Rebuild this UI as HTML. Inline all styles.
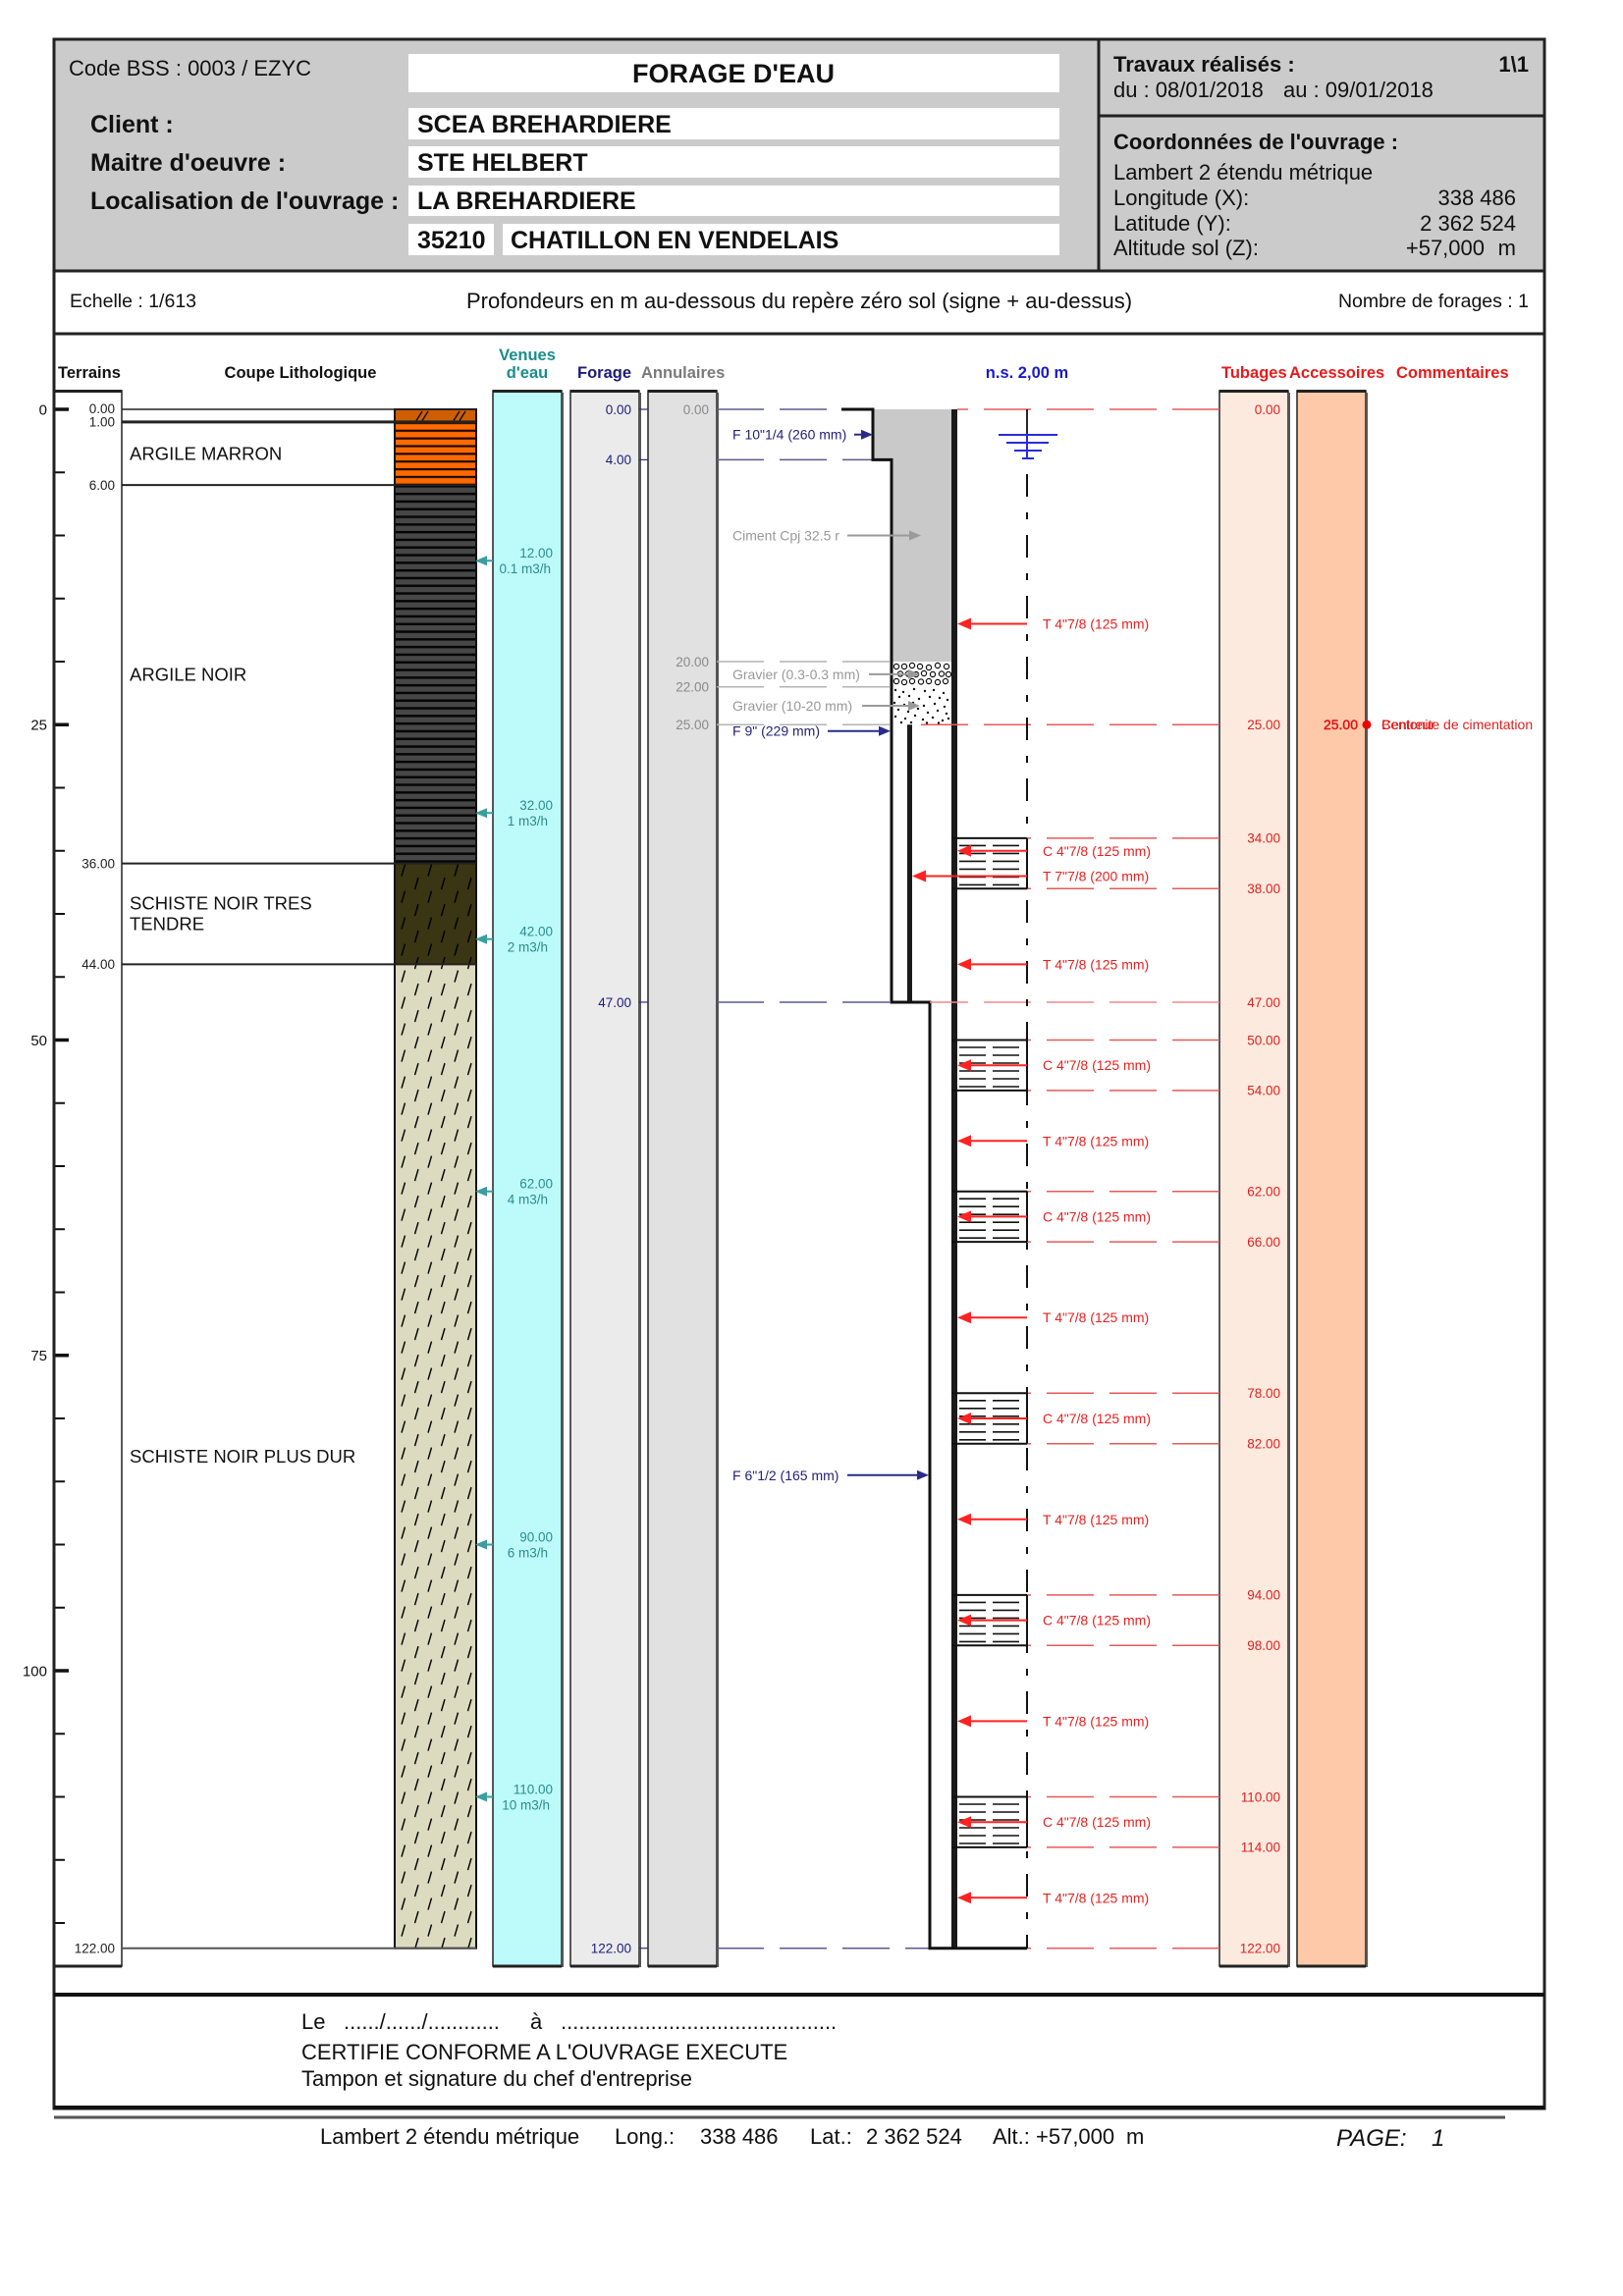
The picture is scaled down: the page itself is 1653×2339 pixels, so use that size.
<!DOCTYPE html>
<html><head><meta charset="utf-8"><style>
html,body{margin:0;padding:0;background:#fff;}
svg{display:block;}
text{font-family:"Liberation Sans",Arial,sans-serif;}
</style></head><body>
<svg width="1653" height="2339" viewBox="0 0 1653 2339" xmlns="http://www.w3.org/2000/svg" xmlns:xlink="http://www.w3.org/1999/xlink">
<defs>
 <pattern id="pm" patternUnits="userSpaceOnUse" x="0" y="429.85" width="20" height="7.85">
  <rect width="20" height="7.85" fill="#ff6a00"/>
  <rect y="0" width="20" height="2.2" fill="#1a0800"/>
 </pattern>
 <pattern id="pn" patternUnits="userSpaceOnUse" x="0" y="494.1" width="20" height="7.8">
  <rect width="20" height="7.8" fill="#474747"/>
  <rect y="0" width="20" height="2.5" fill="#050505"/>
 </pattern>
 <pattern id="ps" patternUnits="userSpaceOnUse" x="405" y="879.6" width="27" height="27">
  <line x1="4" y1="13" x2="7.5" y2="1" stroke="#000" stroke-width="1.4"/>
  <line x1="17.5" y1="26.5" x2="21" y2="14.5" stroke="#000" stroke-width="1.4"/>
 </pattern>
 <g id="scr">
  <line x1="969" y1="0" x2="1046" y2="0" stroke="#111" stroke-width="2"/>
  <line x1="969" y1="51.4" x2="1046" y2="51.4" stroke="#111" stroke-width="2"/>
  <line x1="1046" y1="0" x2="1046" y2="51.4" stroke="#111" stroke-width="2"/>
  <g stroke="#111" stroke-width="1.6">
   <line x1="977" y1="7.5" x2="1004" y2="7.5"/><line x1="1011" y1="7.5" x2="1038" y2="7.5"/>
   <line x1="977" y1="15.5" x2="1004" y2="15.5"/><line x1="1011" y1="15.5" x2="1038" y2="15.5"/>
   <line x1="977" y1="23.5" x2="1004" y2="23.5"/><line x1="1011" y1="23.5" x2="1038" y2="23.5"/>
   <line x1="977" y1="31.5" x2="1004" y2="31.5"/><line x1="1011" y1="31.5" x2="1038" y2="31.5"/>
   <line x1="977" y1="39.5" x2="1004" y2="39.5"/><line x1="1011" y1="39.5" x2="1038" y2="39.5"/>
   <line x1="977" y1="47.5" x2="1004" y2="47.5"/><line x1="1011" y1="47.5" x2="1038" y2="47.5"/>
  </g>
 </g>
 <g id="ra">
  <line x1="987" y1="0" x2="1046" y2="0" stroke="#f22" stroke-width="2"/>
  <polygon points="975,0 989,-6 989,6" fill="#f22"/>
 </g>
 <g id="wa">
  <line x1="494" y1="0" x2="502" y2="0" stroke="#3a9e9e" stroke-width="2"/>
  <polygon points="484,0 496,-5 496,5" fill="#3a9e9e"/>
 </g>
</defs>

<!-- HEADER -->
<rect x="55" y="40" width="1518" height="236" fill="#cbcbcb"/>
<rect x="416" y="55" width="663" height="39" fill="#fff"/>
<rect x="416" y="110" width="663" height="32" fill="#fff"/>
<rect x="416" y="149" width="663" height="32" fill="#fff"/>
<rect x="416" y="189" width="663" height="31" fill="#fff"/>
<rect x="416" y="228" width="87" height="32" fill="#fff"/>
<rect x="512" y="228" width="567" height="32" fill="#fff"/>
<line x1="1119" y1="40" x2="1119" y2="276" stroke="#222" stroke-width="3"/>
<line x1="1119" y1="118" x2="1573" y2="118" stroke="#222" stroke-width="3"/>

<text x="70" y="77" font-size="22" fill="#111">Code BSS : 0003 / EZYC</text>
<text x="747" y="84" font-size="27" font-weight="bold" text-anchor="middle" fill="#111">FORAGE D'EAU</text>
<text x="92" y="135" font-size="25" font-weight="bold" fill="#111">Client :</text>
<text x="92" y="174" font-size="25" font-weight="bold" fill="#111">Maitre d'oeuvre :</text>
<text x="92" y="213" font-size="25" font-weight="bold" fill="#111">Localisation de l'ouvrage :</text>
<text x="425" y="135" font-size="25" font-weight="bold" fill="#111">SCEA BREHARDIERE</text>
<text x="425" y="174" font-size="25" font-weight="bold" fill="#111">STE HELBERT</text>
<text x="425" y="213" font-size="25" font-weight="bold" fill="#111">LA BREHARDIERE</text>
<text x="425" y="253" font-size="25" font-weight="bold" fill="#111">35210</text>
<text x="520" y="253" font-size="25" font-weight="bold" fill="#111">CHATILLON EN VENDELAIS</text>

<text x="1134" y="73" font-size="22" font-weight="bold" fill="#111">Travaux réalisés :</text>
<text x="1557" y="73" font-size="22" font-weight="bold" fill="#111" text-anchor="end">1\1</text>
<text x="1134" y="99" font-size="22" fill="#111">du : 08/01/2018</text>
<text x="1307" y="99" font-size="22" fill="#111">au : 09/01/2018</text>
<text x="1134" y="152" font-size="22" font-weight="bold" fill="#111">Coordonnées de l'ouvrage :</text>
<text x="1134" y="183" font-size="22" fill="#111">Lambert 2 étendu métrique</text>
<text x="1134" y="209" font-size="22" fill="#111">Longitude (X):</text>
<text x="1544" y="209" font-size="22" fill="#111" text-anchor="end">338 486</text>
<text x="1134" y="235" font-size="22" fill="#111">Latitude (Y):</text>
<text x="1544" y="235" font-size="22" fill="#111" text-anchor="end">2 362 524</text>
<text x="1134" y="260" font-size="22" fill="#111">Altitude sol (Z):</text>
<text x="1512" y="260" font-size="22" fill="#111" text-anchor="end">+57,000</text>
<text x="1544" y="260" font-size="22" fill="#111" text-anchor="end">m</text>

<!-- ROW 2 -->
<text x="71" y="313" font-size="19.5" fill="#111">Echelle : 1/613</text>
<text x="814" y="314" font-size="22" fill="#111" text-anchor="middle">Profondeurs en m au-dessous du repère zéro sol (signe + au-dessus)</text>
<text x="1557" y="313" font-size="19.5" fill="#111" text-anchor="end">Nombre de forages : 1</text>

<!-- COLUMN HEADERS -->
<g font-size="16.5" font-weight="bold">
<text x="59" y="385" fill="#111">Terrains</text>
<text x="306" y="385" fill="#111" text-anchor="middle">Coupe Lithologique</text>
<text x="537" y="367" fill="#1a8c8c" text-anchor="middle">Venues</text>
<text x="537" y="385" fill="#1a8c8c" text-anchor="middle">d'eau</text>
<text x="588" y="385" fill="#1c1c78">Forage</text>
<text x="653" y="385" fill="#7a7a7a">Annulaires</text>
<text x="1046" y="385" fill="#1a1ac8" text-anchor="middle">n.s. 2,00 m</text>
<text x="1244" y="385" fill="#e81a1a">Tubages</text>
<text x="1313" y="385" fill="#e81a1a">Accessoires</text>
<text x="1422" y="385" fill="#e81a1a">Commentaires</text>
</g>

<!-- COLUMNS -->
<g stroke="#222" stroke-width="1.5">
<rect x="55" y="398" width="69" height="1605" fill="#fff"/>
<rect x="502" y="398" width="70" height="1605" fill="#bdfbfb"/>
<rect x="581" y="398" width="70" height="1605" fill="#ebebeb"/>
<rect x="660" y="398" width="70" height="1605" fill="#e1e1e1"/>
<rect x="1242" y="398" width="70" height="1605" fill="#fdeade"/>
<rect x="1321" y="398" width="70" height="1605" fill="#fdc9a9"/>
</g>
<g stroke="#222" stroke-width="3">
<line x1="55" y1="398.5" x2="124" y2="398.5"/>
<line x1="502" y1="398.5" x2="572" y2="398.5"/>
<line x1="581" y1="398.5" x2="651" y2="398.5"/>
<line x1="660" y1="398.5" x2="730" y2="398.5"/>
<line x1="1242" y1="398.5" x2="1312" y2="398.5"/>
<line x1="1321" y1="398.5" x2="1391" y2="398.5"/>
<line x1="55" y1="2003" x2="124" y2="2003"/>
<line x1="502" y1="2003" x2="572" y2="2003"/>
<line x1="581" y1="2003" x2="651" y2="2003"/>
<line x1="660" y1="2003" x2="730" y2="2003"/>
<line x1="1242" y1="2003" x2="1312" y2="2003"/>
<line x1="1321" y1="2003" x2="1391" y2="2003"/>
</g>
<g stroke="#555" stroke-width="2">
<line x1="652" y1="400" x2="652" y2="2004"/>
<line x1="731" y1="400" x2="731" y2="2004"/>
<line x1="573" y1="400" x2="573" y2="2004"/>
<line x1="1313" y1="400" x2="1313" y2="2004"/>
<line x1="1392" y1="400" x2="1392" y2="2004"/>
</g>

<!-- SCALE -->
<g stroke="#111" stroke-width="2">
<line x1="55" y1="481.25" x2="66" y2="481.25"/><line x1="55" y1="545.5" x2="66" y2="545.5"/>
<line x1="55" y1="609.75" x2="66" y2="609.75"/><line x1="55" y1="674" x2="66" y2="674"/>
<line x1="55" y1="802.5" x2="66" y2="802.5"/><line x1="55" y1="866.75" x2="66" y2="866.75"/>
<line x1="55" y1="931" x2="66" y2="931"/><line x1="55" y1="995.25" x2="66" y2="995.25"/>
<line x1="55" y1="1123.75" x2="66" y2="1123.75"/><line x1="55" y1="1188" x2="66" y2="1188"/>
<line x1="55" y1="1252.25" x2="66" y2="1252.25"/><line x1="55" y1="1316.5" x2="66" y2="1316.5"/>
<line x1="55" y1="1445" x2="66" y2="1445"/><line x1="55" y1="1509.25" x2="66" y2="1509.25"/>
<line x1="55" y1="1573.5" x2="66" y2="1573.5"/><line x1="55" y1="1637.75" x2="66" y2="1637.75"/>
<line x1="55" y1="1766.25" x2="66" y2="1766.25"/><line x1="55" y1="1830.5" x2="66" y2="1830.5"/>
<line x1="55" y1="1894.75" x2="66" y2="1894.75"/><line x1="55" y1="1959" x2="66" y2="1959"/>
</g>
<g stroke="#111" stroke-width="3.5">
<line x1="55" y1="417" x2="70" y2="417"/><line x1="55" y1="738.25" x2="70" y2="738.25"/>
<line x1="55" y1="1059.5" x2="70" y2="1059.5"/><line x1="55" y1="1380.75" x2="70" y2="1380.75"/>
<line x1="55" y1="1702" x2="70" y2="1702"/>
</g>
<g font-size="15" fill="#111" text-anchor="end">
<text x="48" y="422.4">0</text>
<text x="48" y="743.6">25</text>
<text x="48" y="1064.9">50</text>
<text x="48" y="1386.1">75</text>
<text x="48" y="1707.4">100</text>
</g>

<!-- LITHOLOGY -->
<rect x="402" y="417" width="83" height="12.85" fill="#d05e00"/>
<rect x="402" y="429.85" width="83" height="64.25" fill="url(#pm)"/>
<rect x="402" y="494.1" width="83" height="385.5" fill="url(#pn)"/>
<rect x="402" y="879.6" width="83" height="102.8" fill="#3a3512"/>
<rect x="402" y="879.6" width="83" height="102.8" fill="url(#ps)"/>
<rect x="402" y="982.4" width="83" height="1002.3" fill="#dcdbc0"/>
<rect x="402" y="982.4" width="83" height="1002.3" fill="url(#ps)"/>
<g stroke="#111" stroke-width="1.5">
<line x1="424" y1="428.5" x2="430" y2="419"/><line x1="430" y1="428.5" x2="436" y2="419"/>
<line x1="462" y1="428.5" x2="468" y2="419"/><line x1="468" y1="428.5" x2="474" y2="419"/>
</g>
<rect x="402" y="417" width="83" height="1567.7" fill="none" stroke="#111" stroke-width="2"/>
<g stroke="#222">
<line x1="124" y1="417" x2="485" y2="417" stroke-width="1.5"/>
<line x1="124" y1="429.85" x2="485" y2="429.85" stroke-width="3"/>
<line x1="124" y1="494.1" x2="485" y2="494.1" stroke-width="2"/>
<line x1="124" y1="879.6" x2="485" y2="879.6" stroke-width="2"/>
<line x1="124" y1="982.4" x2="485" y2="982.4" stroke-width="2"/>
<line x1="124" y1="1984.7" x2="485" y2="1984.7" stroke-width="2" stroke="#555"/>
</g>
<g font-size="13.5" fill="#222" text-anchor="end">
<text x="117" y="421">0.00</text>
<text x="117" y="434.5">1.00</text>
<text x="117" y="498.9">6.00</text>
<text x="117" y="884.4">36.00</text>
<text x="117" y="987.2">44.00</text>
<text x="117" y="1989.5">122.00</text>
</g>
<g font-size="18.5" fill="#111">
<text x="132" y="468.5">ARGILE MARRON</text>
<text x="132" y="693.5">ARGILE NOIR</text>
<text x="132" y="926.5">SCHISTE NOIR TRES</text>
<text x="132" y="947.5">TENDRE</text>
<text x="132" y="1490.2">SCHISTE NOIR PLUS DUR</text>
</g>

<!-- VENUES D'EAU -->
<use xlink:href="#wa" href="#wa" y="571.2"/>
<use xlink:href="#wa" href="#wa" y="828.2"/>
<use xlink:href="#wa" href="#wa" y="956.7"/>
<use xlink:href="#wa" href="#wa" y="1213.7"/>
<use xlink:href="#wa" href="#wa" y="1573.5"/>
<use xlink:href="#wa" href="#wa" y="1830.5"/>
<g font-size="13.5" fill="#2b8c8c" text-anchor="end">
<text x="563" y="568">12.00</text><text x="561" y="584">0.1 m3/h</text>
<text x="563" y="825">32.00</text><text x="558" y="841">1 m3/h</text>
<text x="563" y="953.5">42.00</text><text x="558" y="969.5">2 m3/h</text>
<text x="563" y="1210.5">62.00</text><text x="558" y="1226.5">4 m3/h</text>
<text x="563" y="1570.3">90.00</text><text x="558" y="1586.3">6 m3/h</text>
<text x="563" y="1827.3">110.00</text><text x="560" y="1843.3">10 m3/h</text>
</g>

<!-- FORAGE / ANNULAIRES LABELS -->
<g stroke="#2a2a80" stroke-width="1.2">
<line x1="651" y1="417" x2="660" y2="417"/><line x1="651" y1="468.4" x2="660" y2="468.4"/>
<line x1="651" y1="1020.95" x2="660" y2="1020.95"/><line x1="651" y1="1984.7" x2="660" y2="1984.7"/>
</g>
<g font-size="13.5" fill="#1c1c7a" text-anchor="end">
<text x="643" y="421.8">0.00</text>
<text x="643" y="473.2">4.00</text>
<text x="643" y="1025.8">47.00</text>
<text x="643" y="1989.5">122.00</text>
</g>
<g font-size="13.5" fill="#8a8a8a" text-anchor="end">
<text x="722" y="421.8">0.00</text>
<text x="722" y="678.8">20.00</text>
<text x="722" y="704.5">22.00</text>
<text x="722" y="743">25.00</text>
</g>

<!-- CONNECTOR DASHED LINES LEFT -->
<g stroke="#5a5a92" stroke-width="1.5" stroke-dasharray="48 16" fill="none">
<line x1="730" y1="417" x2="857" y2="417"/>
<line x1="730" y1="468.4" x2="889" y2="468.4"/>
<line x1="730" y1="1020.95" x2="908" y2="1020.95"/>
<line x1="730" y1="1984.7" x2="947" y2="1984.7"/>
</g>
<g stroke="#b4b4b4" stroke-width="1.5" stroke-dasharray="48 16" fill="none">
<line x1="730" y1="674" x2="908" y2="674"/>
<line x1="730" y1="699.7" x2="908" y2="699.7"/>
<line x1="730" y1="738.25" x2="908" y2="738.25"/>
</g>

<!-- WELL -->
<polygon points="889,417 969,417 969,674 908,674 908,468.4 889,468.4" fill="#c9c9c9"/>
<rect x="908" y="674" width="61" height="64.25" fill="#fff"/>
<g fill="none" stroke="#111" stroke-width="1.2">
<circle cx="913" cy="679" r="2.6"/><circle cx="921" cy="679" r="2.6"/><circle cx="929" cy="678" r="2.6"/><circle cx="937" cy="679" r="2.6"/><circle cx="946" cy="680" r="2.6"/><circle cx="955" cy="678" r="2.6"/><circle cx="964" cy="679" r="2.6"/>
<circle cx="917" cy="686.5" r="2.6"/><circle cx="925" cy="686.5" r="2.6"/><circle cx="933" cy="687" r="2.6"/><circle cx="941" cy="686" r="2.6"/><circle cx="950" cy="687" r="2.6"/><circle cx="959" cy="686.5" r="2.6"/><circle cx="966" cy="687" r="2.6"/>
<circle cx="913" cy="694" r="2.6"/><circle cx="921" cy="695" r="2.6"/><circle cx="929" cy="694" r="2.6"/><circle cx="938" cy="694.5" r="2.6"/><circle cx="946" cy="694" r="2.6"/><circle cx="955" cy="695" r="2.6"/><circle cx="963" cy="694" r="2.6"/>
</g>
<g fill="#111">
<circle cx="912" cy="703" r="1.2"/><circle cx="920" cy="705" r="1.2"/><circle cx="931" cy="702" r="1.2"/><circle cx="942" cy="704" r="1.2"/><circle cx="951" cy="703" r="1.2"/><circle cx="961" cy="706" r="1.2"/>
<circle cx="916" cy="710" r="1.2"/><circle cx="926" cy="709" r="1.2"/><circle cx="936" cy="712" r="1.2"/><circle cx="947" cy="710" r="1.2"/><circle cx="957" cy="711" r="1.2"/><circle cx="965" cy="713" r="1.2"/>
<circle cx="911" cy="716" r="1.2"/><circle cx="921" cy="718" r="1.2"/><circle cx="930" cy="716" r="1.2"/><circle cx="941" cy="719" r="1.2"/><circle cx="952" cy="717" r="1.2"/><circle cx="962" cy="720" r="1.2"/>
<circle cx="915" cy="723" r="1.2"/><circle cx="925" cy="725" r="1.2"/><circle cx="935" cy="722" r="1.2"/><circle cx="945" cy="726" r="1.2"/><circle cx="955" cy="724" r="1.2"/><circle cx="964" cy="727" r="1.2"/>
<circle cx="912" cy="730" r="1.2"/><circle cx="922" cy="732" r="1.2"/><circle cx="932" cy="729" r="1.2"/><circle cx="940" cy="733" r="1.2"/><circle cx="950" cy="731" r="1.2"/><circle cx="960" cy="734" r="1.2"/>
<circle cx="918" cy="736" r="1.2"/><circle cx="928" cy="736" r="1.2"/><circle cx="944" cy="736.5" r="1.2"/><circle cx="956" cy="736.5" r="1.2"/><circle cx="966" cy="732" r="1.2"/>
</g>
<rect x="969" y="417" width="6" height="1567.7" fill="#1a1a1a"/>
<rect x="924" y="738.25" width="5" height="282.7" fill="#1a1a1a"/>
<path d="M857,417 H889 V468.4 H908 V1020.95 H947 V1984.7 H1046" fill="none" stroke="#111" stroke-width="3"/>

<!-- RED DASHED CONNECTORS RIGHT -->
<g stroke="#e65a5a" stroke-width="1.5" stroke-dasharray="48 16" fill="none">
<line x1="1242" y1="417" x2="975" y2="417"/>
<line x1="1242" y1="738.25" x2="933" y2="738.25"/>
<line x1="1242" y1="853.9" x2="1046" y2="853.9"/>
<line x1="1242" y1="905.3" x2="1046" y2="905.3"/>
<line x1="1242" y1="1020.95" x2="947" y2="1020.95" stroke="#f08a8a"/>
<line x1="1242" y1="1059.5" x2="1046" y2="1059.5"/>
<line x1="1242" y1="1110.9" x2="1046" y2="1110.9"/>
<line x1="1242" y1="1213.7" x2="1046" y2="1213.7"/>
<line x1="1242" y1="1265.1" x2="1046" y2="1265.1"/>
<line x1="1242" y1="1419.3" x2="1046" y2="1419.3"/>
<line x1="1242" y1="1470.7" x2="1046" y2="1470.7"/>
<line x1="1242" y1="1624.9" x2="1046" y2="1624.9"/>
<line x1="1242" y1="1676.3" x2="1046" y2="1676.3"/>
<line x1="1242" y1="1830.5" x2="1046" y2="1830.5"/>
<line x1="1242" y1="1881.9" x2="1046" y2="1881.9"/>
<line x1="1242" y1="1984.7" x2="1046" y2="1984.7"/>
</g>

<!-- CENTERLINE & WATER LEVEL -->
<line x1="1046" y1="417" x2="1046" y2="443" stroke="#111" stroke-width="1.8"/>
<line x1="1046" y1="483" x2="1046" y2="1984.7" stroke="#111" stroke-width="2" stroke-dasharray="23 16 7 16"/>
<g stroke="#2a2ae0" stroke-width="2">
<line x1="1017" y1="443" x2="1077" y2="443"/>
<line x1="1025" y1="451" x2="1068" y2="451"/>
<line x1="1033" y1="459" x2="1061" y2="459"/>
<line x1="1041" y1="467" x2="1053" y2="467"/>
<line x1="1046" y1="443" x2="1046" y2="467"/>
</g>

<!-- SCREENS -->
<use xlink:href="#scr" href="#scr" y="853.9"/>
<use xlink:href="#scr" href="#scr" y="1059.5"/>
<use xlink:href="#scr" href="#scr" y="1213.7"/>
<use xlink:href="#scr" href="#scr" y="1419.3"/>
<use xlink:href="#scr" href="#scr" y="1624.9"/>
<use xlink:href="#scr" href="#scr" y="1830.5"/>

<!-- RED ARROWS -->
<use xlink:href="#ra" href="#ra" y="635.45"/>
<use xlink:href="#ra" href="#ra" y="866.75"/>
<line x1="941" y1="892.45" x2="1046" y2="892.45" stroke="#f22" stroke-width="2"/>
<polygon points="929,892.45 943,886.45 943,898.45" fill="#f22"/>
<use xlink:href="#ra" href="#ra" y="982.4"/>
<use xlink:href="#ra" href="#ra" y="1085.2"/>
<use xlink:href="#ra" href="#ra" y="1162.3"/>
<use xlink:href="#ra" href="#ra" y="1239.4"/>
<use xlink:href="#ra" href="#ra" y="1342.2"/>
<use xlink:href="#ra" href="#ra" y="1445"/>
<use xlink:href="#ra" href="#ra" y="1547.8"/>
<use xlink:href="#ra" href="#ra" y="1650.6"/>
<use xlink:href="#ra" href="#ra" y="1753.4"/>
<use xlink:href="#ra" href="#ra" y="1856.2"/>
<use xlink:href="#ra" href="#ra" y="1933.3"/>
<g font-size="14" fill="#e82020">
<text x="1062" y="640.5">T 4&quot;7/8 (125 mm)</text>
<text x="1062" y="871.8">C 4&quot;7/8 (125 mm)</text>
<text x="1062" y="897.5">T 7&quot;7/8 (200 mm)</text>
<text x="1062" y="987.4">T 4&quot;7/8 (125 mm)</text>
<text x="1062" y="1090.2">C 4&quot;7/8 (125 mm)</text>
<text x="1062" y="1167.3">T 4&quot;7/8 (125 mm)</text>
<text x="1062" y="1244.4">C 4&quot;7/8 (125 mm)</text>
<text x="1062" y="1347.2">T 4&quot;7/8 (125 mm)</text>
<text x="1062" y="1450">C 4&quot;7/8 (125 mm)</text>
<text x="1062" y="1552.8">T 4&quot;7/8 (125 mm)</text>
<text x="1062" y="1655.6">C 4&quot;7/8 (125 mm)</text>
<text x="1062" y="1758.4">T 4&quot;7/8 (125 mm)</text>
<text x="1062" y="1861.2">C 4&quot;7/8 (125 mm)</text>
<text x="1062" y="1938.3">T 4&quot;7/8 (125 mm)</text>
</g>

<!-- LEFT WELL LABELS & ARROWS -->
<g stroke="#2a2a8a" stroke-width="2">
<line x1="870" y1="442.7" x2="880" y2="442.7"/>
<line x1="843" y1="744.7" x2="896" y2="744.7"/>
<line x1="863" y1="1502.8" x2="935" y2="1502.8"/>
</g>
<g fill="#2a2a8a">
<polygon points="889,442.7 877,437.7 877,447.7"/>
<polygon points="907,744.7 895,739.7 895,749.7"/>
<polygon points="946,1502.8 934,1497.8 934,1507.8"/>
</g>
<g stroke="#9a9a9a" stroke-width="2">
<line x1="863" y1="545.5" x2="927" y2="545.5"/>
<line x1="885" y1="686.85" x2="927" y2="686.85"/>
<line x1="878" y1="719" x2="927" y2="719"/>
</g>
<g fill="#9a9a9a">
<polygon points="938,545.5 926,540.5 926,550.5"/>
<polygon points="937,686.85 925,681.85 925,691.85"/>
<polygon points="937,719 925,714 925,724"/>
</g>
<g font-size="14">
<text x="746" y="447.7" fill="#22227a">F 10&quot;1/4 (260 mm)</text>
<text x="746" y="550.5" fill="#999">Ciment Cpj 32.5 r</text>
<text x="746" y="691.9" fill="#999">Gravier (0.3-0.3 mm)</text>
<text x="746" y="724" fill="#999">Gravier (10-20 mm)</text>
<text x="746" y="749.7" fill="#22227a">F 9&quot; (229 mm)</text>
<text x="746" y="1507.8" fill="#22227a">F 6&quot;1/2 (165 mm)</text>
</g>

<!-- TUBAGES LABELS -->
<g font-size="13.5" fill="#e02020" text-anchor="end">
<text x="1304" y="421.8">0.00</text>
<text x="1304" y="743">25.00</text>
<text x="1304" y="858.7">34.00</text>
<text x="1304" y="910.1">38.00</text>
<text x="1304" y="1025.8">47.00</text>
<text x="1304" y="1064.3">50.00</text>
<text x="1304" y="1115.7">54.00</text>
<text x="1304" y="1218.5">62.00</text>
<text x="1304" y="1269.9">66.00</text>
<text x="1304" y="1424.1">78.00</text>
<text x="1304" y="1475.5">82.00</text>
<text x="1304" y="1629.7">94.00</text>
<text x="1304" y="1681.1">98.00</text>
<text x="1304" y="1835.3">110.00</text>
<text x="1304" y="1886.7">114.00</text>
<text x="1304" y="1989.5">122.00</text>
</g>
<text x="1383" y="743" font-size="14" fill="#e01010" stroke="#e01010" stroke-width="0.4" text-anchor="end">25.00</text>
<circle cx="1392" cy="738.25" r="4.5" fill="#e00"/>
<text x="1407" y="743" font-size="14" fill="#e02020">Centreur</text>
<text x="1407" y="743" font-size="14" fill="#e02020">Bentonite de cimentation</text>

<!-- FRAME LINES -->
<rect x="55" y="40" width="1518" height="2108" fill="none" stroke="#222" stroke-width="3"/>
<line x1="55" y1="276" x2="1573" y2="276" stroke="#222" stroke-width="3"/>
<line x1="55" y1="340" x2="1573" y2="340" stroke="#222" stroke-width="3"/>
<line x1="55" y1="2032" x2="1573" y2="2032" stroke="#111" stroke-width="4"/>
<line x1="55" y1="2147" x2="1573" y2="2147" stroke="#111" stroke-width="4"/>

<!-- SIGNATURE -->
<g font-size="22" fill="#111">
<text x="307" y="2067">Le</text>
<text x="350" y="2067">....../....../............</text>
<text x="540" y="2067">à</text>
<text x="571" y="2067">..............................................</text>
<text x="307" y="2098">CERTIFIE CONFORME A L'OUVRAGE EXECUTE</text>
<text x="307" y="2125">Tampon et signature du chef d'entreprise</text>
</g>

<!-- FOOTER -->
<line x1="55" y1="2157" x2="1533" y2="2157" stroke="#555" stroke-width="3"/>
<g font-size="22" fill="#111">
<text x="326" y="2184">Lambert 2 étendu métrique</text>
<text x="626" y="2184">Long.:</text>
<text x="713" y="2184">338 486</text>
<text x="825" y="2184">Lat.:</text>
<text x="882" y="2184">2 362 524</text>
<text x="1011" y="2184">Alt.:</text>
<text x="1055" y="2184">+57,000</text>
<text x="1147" y="2184">m</text>
</g>
<text x="1361" y="2186" font-size="24" font-style="italic" fill="#111">PAGE:</text>
<text x="1458" y="2186" font-size="24" font-style="italic" fill="#111">1</text>
</svg>
</body></html>
